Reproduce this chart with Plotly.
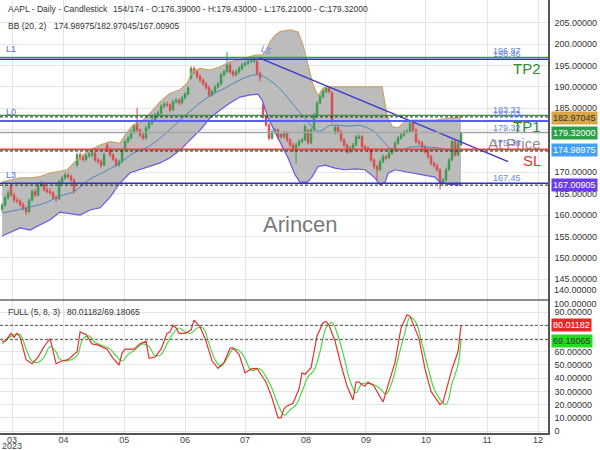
import plotly.graph_objects as go

# ---------------- data ----------------
opens = [161.4,162.3,164.0,166.7,164.7,163.5,163.3,162.4,161.6,160.8,
         163.5,165.5,164.7,167.0,167.4,165.9,165.5,165.2,164.1,163.8,
         167.8,168.7,169.4,169.0,168.2,171.7,174.1,173.4,173.0,173.9,
         174.1,174.5,172.9,172.5,171.7,176.4,175.3,174.1,173.0,171.7,
         172.5,175.3,177.2,178.0,179.5,181.9,179.9,178.7,178.0,180.4,
         181.5,182.2,183.4,183.9,185.4,186.0,185.8,184.6,186.5,186.9,
         186.2,187.4,188.3,192.0,194.3,193.5,192.4,191.6,190.7,189.8,
         188.1,188.9,190.0,190.7,192.8,193.5,195.1,193.5,192.8,193.5,
         194.3,195.1,195.5,195.9,196.0,195.9,193.2,185.8,183.0,181.1,
         178.0,179.5,179.9,178.9,178.3,179.2,177.6,176.4,175.3,176.4,
         177.2,177.6,179.8,176.9,179.9,183.4,186.2,187.7,188.9,189.7,
         188.6,179.6,180.5,179.5,177.6,176.4,174.8,175.7,176.4,177.9,
         178.3,176.0,175.7,175.3,172.9,171.3,170.6,172.5,173.7,173.4,
         174.5,175.3,176.8,178.0,178.7,179.4,179.6,181.5,179.9,177.2,
         176.9,176.0,174.8,173.7,172.1,171.6,170.6,167.4,168.2,170.6,
         172.9,177.2,174.1,176.39]
highs = [162.8,164.5,165.8,167.2,165.2,164.2,163.8,163.0,162.0,163.9,
         166.0,166.1,167.6,168.0,167.8,166.6,166.3,165.6,164.6,168.2,
         169.2,170.0,169.9,169.5,168.6,174.6,174.7,174.0,174.4,174.8,
         175.0,174.9,173.4,173.0,174.6,176.9,175.8,174.5,173.4,173.0,
         175.8,177.7,178.6,180.0,181.2,185.1,180.3,179.2,180.9,182.0,
         182.7,183.9,184.4,185.9,186.5,186.6,186.2,187.0,187.4,187.3,
         187.9,188.8,190.2,194.8,194.8,194.0,192.9,192.0,191.2,190.3,
         189.4,190.5,191.2,193.3,194.0,198.2,195.6,194.0,194.0,194.8,
         195.6,196.0,196.4,196.5,197.0,196.3,193.6,186.2,183.5,181.5,
         180.0,180.4,180.3,179.0,179.7,179.6,178.0,176.9,176.9,177.7,
         178.1,181.2,180.2,180.4,183.9,186.7,188.2,189.4,190.2,190.1,
         189.0,181.0,180.9,179.9,178.0,176.8,176.2,176.9,178.8,178.9,
         178.7,176.5,176.1,175.7,173.3,171.8,173.0,174.2,174.1,175.0,
         175.8,177.3,178.5,179.2,179.9,180.1,182.0,181.9,180.3,177.7,
         177.3,176.4,175.2,174.1,172.6,172.0,171.0,168.8,171.1,173.4,
         177.7,177.6,177.3,179.43]
lows = [160.8,161.9,163.6,164.3,162.9,162.8,161.9,161.0,160.0,160.5,
        163.2,164.2,164.4,166.5,165.5,165.0,164.7,163.6,163.0,163.5,
        167.4,168.3,168.6,167.8,165.0,171.3,172.9,172.5,172.6,173.4,
        173.6,172.4,172.0,171.0,171.4,174.9,173.6,172.6,171.2,171.3,
        172.2,175.0,176.8,177.7,179.0,179.5,178.2,177.5,177.7,180.0,
        181.1,181.9,183.0,183.5,185.0,185.3,184.1,184.3,186.1,185.7,
        185.9,187.0,188.0,191.7,193.0,191.9,191.1,190.2,189.3,187.6,
        187.7,188.5,189.6,190.4,192.4,193.2,193.0,192.3,192.4,193.1,
        193.9,194.7,195.1,195.5,195.6,192.7,191.3,182.5,180.6,177.5,
        177.6,179.0,177.8,177.8,177.9,177.1,175.9,174.8,172.0,176.0,
        176.8,177.3,176.5,176.6,179.6,183.1,185.9,187.3,188.5,188.4,
        181.4,178.8,179.1,177.1,175.9,174.3,174.5,175.3,176.1,177.8,
        175.5,175.2,174.8,172.4,170.8,168.3,170.3,172.1,172.9,173.1,
        174.1,175.0,176.5,177.6,178.3,179.0,179.3,179.4,176.7,176.3,
        175.5,174.3,173.2,171.6,171.1,170.1,165.9,167.0,167.9,170.3,
        172.6,173.6,173.8,176.21]
closes = [162.3,164.0,165.2,164.7,163.5,163.3,162.4,161.6,160.8,163.5,
          165.5,164.7,167.0,167.4,165.9,165.5,165.2,164.1,163.8,167.8,
          168.7,169.4,169.0,168.2,165.5,174.1,173.4,173.0,173.9,174.1,
          174.5,172.9,172.5,171.7,174.1,175.3,174.1,173.0,171.7,172.5,
          175.3,177.2,178.0,179.5,180.7,179.9,178.7,178.0,180.4,181.5,
          182.2,183.4,183.9,185.4,186.0,185.8,184.6,186.5,186.9,186.2,
          187.4,188.3,189.7,194.3,193.5,192.4,191.6,190.7,189.8,188.1,
          188.9,190.0,190.7,192.8,193.5,195.1,193.5,192.8,193.5,194.3,
          195.1,195.5,195.9,196.0,196.5,193.2,192.1,183.0,181.1,178.0,
          179.5,179.9,178.3,178.3,179.2,177.6,176.4,175.3,176.4,177.2,
          177.6,180.7,176.9,179.9,183.4,186.2,187.7,188.9,189.7,188.9,
          181.9,180.5,179.5,177.6,176.4,174.8,175.7,176.4,178.3,178.3,
          176.0,175.7,175.3,172.9,171.3,170.6,172.5,173.7,173.4,174.5,
          175.3,176.8,178.0,178.7,179.4,179.6,181.5,179.9,177.2,176.9,
          176.0,174.8,173.7,172.1,171.6,170.6,167.4,168.2,170.6,172.9,
          177.2,174.1,176.8,179.32]
bars = list(range(len(closes)))

bb_up_x = [0,2.7,6,9.3,12.7,16,19.3,21.7,24.3,27,
           29.3,32.7,36,39.3,41,43.7,46,49.3,52.7,56,
           59.3,61.7,63.3,66,69.3,72.7,76,79.3,84.3,86.7,
           88,89.3,91,92.7,96,98.7,100.3,102,103.7,105.3,
           107,108.7,126.7,128.3,130,132,134.3,136.7,144.3,153]
bb_up = [167.8,168.2,168.7,168.7,169.0,169.8,170.2,170.6,172.5,174.1,
         175.2,176.4,177.2,176.8,178.7,181.1,181.5,183.8,186.5,188.5,
         189.3,190.8,193.5,194.3,193.9,194.7,195.9,196.3,197.4,197.4,
         198.6,200.5,202.1,202.9,203.3,202.8,199.8,195.1,190.4,187.9,
         189.7,190.0,190.0,183.4,180.7,180.4,181.8,182.2,182.2,182.97]
bb_lo_x = [0,2.7,6,9.3,16,19.3,26,29.3,32.7,36,
           39.3,42.7,46,49.3,52.7,56,59.3,62.7,66,69.3,
           72.7,76,79.3,82.7,85.3,86.7,88.7,92,95.3,97.7,
           99.3,101.7,103.3,105.3,107.7,111,114.3,117.7,121,124.3,
           126,127.7,128.7,131,135.3,140,144.3,146,148.7,153]
bb_lo = [155.1,156.0,157.0,156.5,158.9,160.7,160.0,161.2,161.7,164.2,
         167.5,169.9,170.6,171.3,172.2,173.4,175.2,177.6,179.9,182.7,
         184.6,186.2,187.6,188.1,188.3,186.9,182.7,178.0,173.4,169.4,
         167.7,167.7,168.9,171.3,171.7,171.0,170.6,170.8,170.6,168.7,
         167.1,167.7,169.8,170.6,170.1,169.4,168.9,167.7,167.2,167.01]
bb_mid_x = [0,5,10,15,19,24,29,34,39,44,
            49,54,59,64,69,74,79,84,87,89,
            91,94,96,99,101,104,106,109,111,114,
            116,119,121,124,126,129,131,134,136,139,
            141,144,146,149,151,153]
bb_mid = [160.5,161.2,162.0,163.0,164.4,165.5,168.3,170.1,172.1,174.6,
          176.1,178.8,182.0,185.1,187.8,189.6,191.5,192.8,192.5,191.6,
          190.6,188.5,186.8,184.2,182.6,180.2,179.6,180.9,181.05,180.9,
          180.8,181.0,180.6,179.6,178.1,175.8,175.25,175.4,175.9,176.0,
          175.9,175.8,175.6,175.1,175.0,174.99]

stoch_k_x = [0,1,3,4,5,6,8,10,12,14,16,18,20,22,23,25,26,28,30,32,
             35,37,39,40,41,44,46,48,49,51,53,55,56,57,58,59,61,63,64,66,
             68,70,72,74,76,77,79,81,83,85,88,90,92,93,94,95,97,99,100,101,
             103,105,107,108,109,111,113,115,117,118,119,120,121,122,124,125,127,129,131,133,
             135,136,139,141,143,146,147,150,152,153]
stoch_k = [68,68,74,71,74,71,54,51,56,64,70,51,53,54,56,60,75,73,66,65,
           62,55,50,59,62,62,66,68,55,56,62,74,75,80,78,74,74,76.5,84,79,
           68,53,47.5,52,62.6,63,58,44,47,47.5,37,25,10,10,17,19,21,32,44,43,
           48,72,82,83,80,68,50,34,23.5,37,37,35,34,37,34,30,22,37,52,78,
           88,87,70,47,30,20,22,47,60,80.01]
stoch_d_x = [0,2,4,6,8,10,12,14,16,18,19,21,23,25,27,29,31,33,36,38,
             40,42,44,47,49,51,53,55,57,59,61,63,65,67,69,71,73,75,77,79,
             81,83,86,88,90,92,94,96,98,100,102,104,106,108,110,112,114,116,118,120,
             122,124,126,128,130,132,134,136,138,140,142,144,146,148,150,152,153]
stoch_d = [66,70,73,73,62,53,52,56,64,60,55,53,54,57,70,72,67,65,62,57,
           53,58,61,66,64,57,58,66,74,78,75,74,78,78,66,54,49,55,62,61,
           55,46,47,41,32,20,12,16,20,30,41,46,60,78,82,72,56,38,29,36,
           36,35,32,28,37,55,72,86,82,66,48,32,24,20,36,50,69.18]

tick_pos = [3.3, 20.5, 40.7, 61.0, 81.0, 101.3, 121.3, 141.3, 161.7, 178.7]
tick_text = ["03", "04", "05", "06", "07", "08", "09", "10", "11", "12"]
year_text = "2023"
price_ticks = [145, 150, 155, 160, 165, 170, 175, 180, 185, 190, 195, 200, 205]
price_hidden = [175, 180]          # covered by the value boxes in the reference
stoch_ticks = [0, 10, 20, 30, 40, 50, 60, 70, 80, 90]
stoch_hidden = [70, 80]

level_vals = [196.87, 196.46, 183.32, 182.03, 179.32, 175.38, 167.45]
level_text = ["196.87", "196.46", "183.32", "182.03", "179.32", "175.38", "167.45"]
level_colors = ["#3c9440", "#2a33c4", "#3c9440", "#5560ee", "#a6a6a6", "#e8403a", "#2a33c4"]
level_widths = [1.2, 1.6, 1.2, 2.0, 1.6, 1.6, 1.6]
bb_last = [182.97045, 174.98975, 167.00905]
stoch_last = [80.01182, 69.18065]
trend_x = [85.3, 168.7]
trend_y = [196.9, 172.5]

FONT = "Liberation Sans, Arial, sans-serif"
W_PLOT, H_PLOT = 548.0, 433.0
SPLIT = 133.0 / 433.0


def P(xpx, ypx):
    return xpx / W_PLOT, (H_PLOT - ypx) / H_PLOT


fig = go.Figure()

fig.add_trace(go.Scatter(x=bb_up_x, y=bb_up, mode="lines",
                         line=dict(color="#c9a46a", width=1.2), xaxis="x", yaxis="y"))
fig.add_trace(go.Scatter(x=bb_lo_x, y=bb_lo, mode="lines",
                         line=dict(color="#6a58e0", width=1.2), xaxis="x", yaxis="y"))
fig.add_trace(go.Scatter(x=bb_mid_x, y=bb_mid, mode="lines", line_shape="spline",
                         line=dict(color="#4f86b8", width=1), xaxis="x", yaxis="y"))

fig.add_trace(go.Candlestick(
    x=bars, open=opens, high=highs, low=lows, close=closes,
    increasing=dict(line=dict(color="#3b9a50", width=1), fillcolor="#3b9a50"),
    decreasing=dict(line=dict(color="#d84c4c", width=1), fillcolor="#d84c4c"),
    whiskerwidth=0, xaxis="x", yaxis="y"))

fig.add_trace(go.Scatter(x=trend_x, y=trend_y, mode="lines",
                         line=dict(color="#3535d0", width=1.2), xaxis="x", yaxis="y"))

fig.add_trace(go.Scatter(x=stoch_d_x, y=stoch_d, mode="lines", line_shape="spline",
                         line=dict(color="#48d848", width=1.2), xaxis="x2", yaxis="y2"))
fig.add_trace(go.Scatter(x=stoch_k_x, y=stoch_k, mode="lines",
                         line=dict(color="#e63232", width=1.2), xaxis="x2", yaxis="y2"))

shapes = []
pts = list(zip(bb_up_x, bb_up)) + list(zip(bb_lo_x[::-1], bb_lo[::-1]))
path = "M " + " L ".join(f"{x},{y}" for x, y in pts) + " Z"
shapes.append(dict(type="path", xref="x", yref="y", path=path, layer="between",
                   fillcolor="#bcbcbc", line=dict(width=0)))

for v, c, w in zip(level_vals, level_colors, level_widths):
    shapes.append(dict(type="line", xref="paper", x0=0, x1=1, yref="y", y0=v, y1=v,
                       line=dict(color=c, width=w)))
for v in bb_last:
    shapes.append(dict(type="line", xref="paper", x0=0, x1=1, yref="y", y0=v, y1=v,
                       line=dict(color="#222222", width=1, dash="3px,2px")))
for v in stoch_last:
    shapes.append(dict(type="line", xref="paper", x0=0, x1=1, yref="y2", y0=v, y1=v,
                       line=dict(color="#555555", width=1, dash="3px,2px")))
shapes.append(dict(type="line", xref="paper", x0=0, x1=1, yref="paper", y0=SPLIT, y1=SPLIT,
                   line=dict(color="#666666", width=1.5)))

ann = []


def text(x, y, s, size=9, color="#333333", anchor="left", **kw):
    px, py = P(x, y)
    ann.append(dict(x=px, y=py, xref="paper", yref="paper", text=s, showarrow=False,
                    xanchor=anchor, yanchor="middle",
                    font=dict(family=FONT, size=size, color=color), **kw))


text(6, 9, "AAPL - Daily - Candlestick", 8.5)
text(111, 9, "154/174 - O:176.39000 - H:179.43000 - L:176.21000 - C:179.32000", 8.5)
text(6, 26, "BB (20, 2)", 8.5)
text(52, 26, "174.98975/182.97045/167.00905", 8.5)
text(6, 312, "FULL (5, 8, 3)", 8.5)
text(65, 312, "80.01182/69.18065", 8.5)

for s, yy in [("L1", 49), ("L0", 112), ("L3", 175)]:
    text(4, yy, s, 9, "#4d6ee0")
text(266, 50, "L5", 9, "#6a86e0", anchor="center", textangle=22)

for s, yy in [("196.87", 51), ("196.46", 54), ("183.32", 110), ("182.03", 114),
              ("179.32", 128), ("175.38", 143), ("167.45", 178)]:
    text(491, yy, s, 9, "#6a86e0")

text(543, 68, "TP2", 15, "#2e8b2e", anchor="right")
text(543, 126, "TP1", 15, "#2e8b2e", anchor="right")
text(543, 143, "At Price", 15, "rgba(120,120,120,0.85)", anchor="right")
text(543, 160, "SL", 15, "#e8322e", anchor="right")
text(300, 224, "Arincen", 22, "#7a7a7a", anchor="center")

text(552, 290, "140.00000", 9, "#333333")
text(552, 304, "100.00000", 9, "#333333")
text(12, 446, year_text, 9, "#444444", anchor="center")

for s, yy, bg, fc in [("182.97045", 118, "#d9a545", "#333333"),
                      ("179.32000", 133, "#2e9e4a", "#ffffff"),
                      ("174.98975", 150, "#42a0f5", "#ffffff"),
                      ("167.00905", 185, "#6a3de8", "#ffffff"),
                      ("80.01182", 325, "#e82828", "#ffffff"),
                      ("69.18065", 341, "#22dd22", "#333333")]:
    text(551, yy, s, 9, fc, bgcolor=bg, borderpad=1)

fig.update_layout(
    width=600, height=450,
    margin=dict(l=0, r=52, t=0, b=17, autoexpand=False),
    paper_bgcolor="white", plot_bgcolor="white",
    showlegend=False,
    font=dict(family=FONT, size=9, color="#333333"),
    shapes=shapes, annotations=ann,
    xaxis=dict(domain=[0, 1], anchor="y", range=[-0.7, 182.0], tickvals=tick_pos,
               showticklabels=False, showgrid=True, gridcolor="#e4e4e4", gridwidth=1,
               zeroline=False, rangeslider=dict(visible=False), automargin=False),
    xaxis2=dict(domain=[0, 1], anchor="y2", range=[-0.7, 182.0], tickvals=tick_pos,
                ticktext=tick_text, showgrid=True, gridcolor="#e4e4e4", zeroline=False,
                showline=True, linecolor="#555555", linewidth=1.5, ticks="",
                ticklabelstandoff=-3,
                automargin=False, tickfont=dict(size=9, color="#444444")),
    yaxis=dict(domain=[SPLIT, 1], anchor="x", side="right", range=[140.14, 210.31],
               tickvals=price_ticks,
               ticktext=["" if v in price_hidden else f"{v:.5f}" for v in price_ticks],
               showgrid=True, gridcolor="#e4e4e4", zeroline=False, automargin=False,
               showline=True, linecolor="#555555", linewidth=1.5, ticks="outside",
               ticklen=3, tickcolor="rgba(0,0,0,0)", tickfont=dict(size=9, color="#333333")),
    yaxis2=dict(domain=[0, SPLIT], anchor="x2", side="right", range=[-1.5, 99.2],
                tickvals=stoch_ticks,
                ticktext=["" if v in stoch_hidden else (f"{v:.5f}" if v else "0")
                          for v in stoch_ticks],
                showgrid=True, gridcolor="#e4e4e4", zeroline=False, automargin=False,
                showline=True, linecolor="#555555", linewidth=1.5, ticks="outside",
                ticklen=3, tickcolor="rgba(0,0,0,0)", tickfont=dict(size=9, color="#333333")),
)

fig.write_html("out.html")
